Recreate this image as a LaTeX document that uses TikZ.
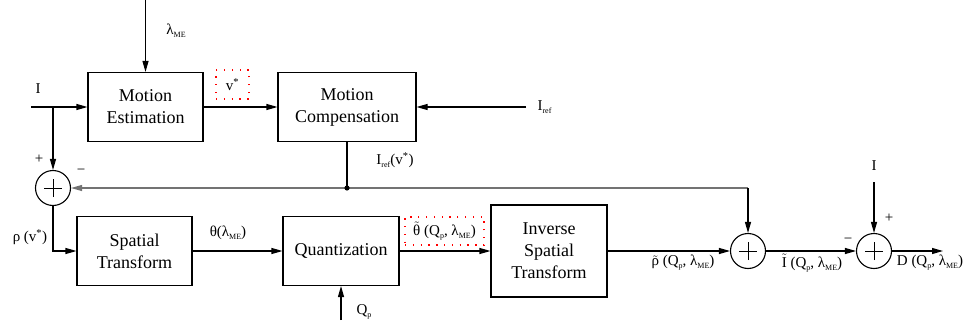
\documentclass[tikz,border=0pt]{standalone}
\usepackage{fontspec}
\setmainfont{Liberation Serif}
\usetikzlibrary{arrows.meta}
\newcommand{\lsub}[1]{\raisebox{-0.45ex}{\fontsize{8}{9}\selectfont #1}}
\newcommand{\tld}[1]{$\tilde{\mbox{#1}}$}
\begin{document}
\begin{tikzpicture}[x=1pt,y=-1pt,
  >={Triangle[length=11pt,width=6pt]},
  line width=1.1pt,
  blk/.style={draw, line width=1.1pt, inner sep=0pt, align=center,
    font=\fontsize{18}{22}\selectfont},
  sumc/.style={draw, circle, minimum size=35pt, inner sep=0pt,
    path picture={\draw[line width=1pt] ([xshift=-9pt]path picture bounding box.center) -- ([xshift=9pt]path picture bounding box.center);
      \draw[line width=1pt] ([yshift=-9pt]path picture bounding box.center) -- ([yshift=9pt]path picture bounding box.center);}},
  lbl/.style={inner sep=0pt, font=\fontsize{15}{17}\selectfont},
  redbox/.style={draw=red, line width=1.3pt, dash pattern=on 1.3pt off 6.5pt, inner sep=0pt},
  fbk/.style={draw=black!55}]
\useasboundingbox (0,0) rectangle (969,329);

% blocks
\node[blk, minimum width=115pt, minimum height=69pt] (me) at (145.5,107) {Motion\\Estimation};
\node[blk, minimum width=138pt, minimum height=69pt] (mc) at (347,107) {Motion\\Compensation};
\node[blk, minimum width=115pt, minimum height=69pt] (st) at (134.5,251) {Spatial\\Transform};
\node[blk, minimum width=116pt, minimum height=69pt] (q) at (341,251) {Quantization};
\node[blk, minimum width=116pt, minimum height=92pt] (ist) at (549,251) {Inverse\\Spatial\\Transform};

% summing junctions
\node[sumc] (s1) at (53,188) {};
\node[sumc] (s2) at (748,251) {};
\node[sumc] (s3) at (874,251) {};

% free ends
\coordinate (iin) at (31,107);
\coordinate (br) at (53,107);
\coordinate (lam) at (145.5,0);
\coordinate (iref) at (526,107);
\coordinate (dot) at (347,188);
\coordinate (corner) at (748,188);
\coordinate (qp) at (341,320);
\coordinate (itop) at (874,182);
\coordinate (dout) at (943,251);

% connectors
\draw (iin) -- (br);
\draw[->] (br) -- (me.west);
\draw[->] (br) -- (s1.north);
\draw[->] (lam) -- (me.north);
\draw[->] (me.east) -- (mc.west);
\draw[->] (iref) -- (mc.east);
\draw (mc.south) -- (dot);
\draw[->,fbk] (dot) -- (s1.east);
\draw[fbk] (dot) -- (corner);
\draw[->] (corner) -- (s2.north);
\fill (dot) circle (2.6pt);
\draw[->] (s1.south) |- (st.west);
\draw[->] (st.east) -- (q.west);
\draw[->] (q.east) -- (ist.west);
\draw[->] (ist.east) -- (s2.west);
\draw[->] (s2.east) -- (s3.west);
\draw[->] (qp) -- (q.south);
\draw[->] (itop) -- (s3.north);
\draw[->] (s3.east) -- (dout);

% dotted label boxes
\node[redbox, minimum width=33pt, minimum height=29pt, lbl] (vbox) at (232.5,84.5) {v\textsuperscript{*}};
\node[redbox, minimum width=79pt, minimum height=28pt, lbl] (tbox) at (444.5,231) {\tld{θ} (Q\lsub{p}, λ\lsub{ME})};

% labels
\node[lbl] (llam) at (176,31) {λ\lsub{ME}};
\node[lbl] (lI) at (38,89) {I};
\node[lbl] (lp1) at (39,159) {+};
\node[lbl] (lm1) at (81,172) {−};
\node[lbl, anchor=west] (liref) at (537,107) {I\lsub{ref}};
\node[lbl] (lirefv) at (395,160) {I\lsub{ref}(v\textsuperscript{*})};
\node[lbl] (lrho) at (30,237) {ρ (v\textsuperscript{*})};
\node[lbl] (ltheta) at (228,233) {θ(λ\lsub{ME})};
\node[lbl] (lqp) at (364,312) {Q\lsub{p}};
\node[lbl] (lrhot) at (683,263) {\tld{ρ} (Q\lsub{p}, λ\lsub{ME})};
\node[lbl] (lIt) at (812,263) {\tld{I} (Q\lsub{p}, λ\lsub{ME})};
\node[lbl] (lD) at (930,263) {D (Q\lsub{p}, λ\lsub{ME})};
\node[lbl] (lI2) at (874,166) {I};
\node[lbl] (lp3) at (889,218) {+};
\node[lbl] (lm3) at (848,241) {−};
\end{tikzpicture}
\end{document}
